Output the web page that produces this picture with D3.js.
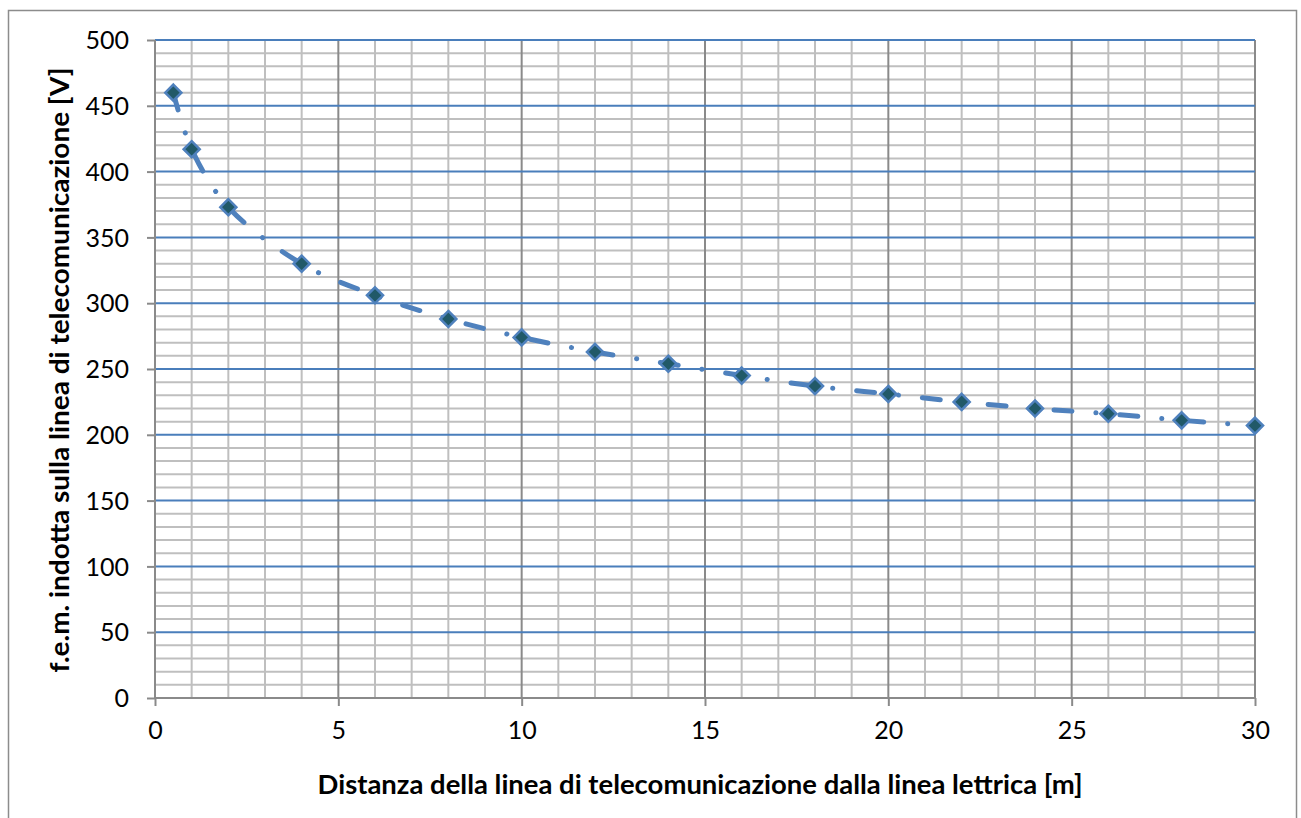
<!DOCTYPE html>
<html>
<head>
<meta charset="utf-8">
<script src="https://cdn.jsdelivr.net/npm/d3@7"></script>
<style>
  html, body { margin: 0; padding: 0; background: #fff; }
  svg { display: block; }
</style>
</head>
<body>
<svg id="chart" width="1301" height="818"></svg>
<script>
// ---- data ----
const distances = [0.5, 1, 2, 4, 6, 8, 10, 12, 14, 16, 18, 20, 22, 24, 26, 28, 30];
const femValues = [460, 417, 373, 330, 306, 288, 274, 263, 254, 245, 237, 231, 225, 220, 216, 211, 207];
const xTicks = [0, 5, 10, 15, 20, 25, 30];
const yTicks = [0, 50, 100, 150, 200, 250, 300, 350, 400, 450, 500];
const xTitle = "Distanza della linea di telecomunicazione dalla linea lettrica [m]";
const yTitle = "f.e.m. indotta sulla linea di telecomunicazione [V]";

(function () {
// ---- layout ----
const svg = d3.select("#chart");
const pL = 155, pR = 1255, pT = 40, pB = 698;
const x = d3.scaleLinear().domain([0, 30]).range([pL, pR]);
const y = d3.scaleLinear().domain([0, 500]).range([pB, pT]);

const FONT = "Lato, 'Open Sans', 'DejaVu Sans', sans-serif";

// outer border (bottom edge lies outside the picture)
svg.append("rect")
  .attr("x", 8.5).attr("y", 10.5)
  .attr("width", 1288).attr("height", 830)
  .attr("fill", "#fff").attr("stroke", "#8c8c8c").attr("stroke-width", 1.5);

const g = svg.append("g");

// minor gridlines
const minorX = d3.range(1, 31).filter(v => v % 5 !== 0);
const minorY = d3.range(10, 501, 10).filter(v => v % 50 !== 0);
g.selectAll("line.mx").data(minorX).join("line")
  .attr("x1", d => x(d)).attr("x2", d => x(d))
  .attr("y1", pT).attr("y2", pB)
  .attr("stroke", "#bfbfbf").attr("stroke-width", 2);
g.selectAll("line.my").data(minorY).join("line")
  .attr("x1", pL).attr("x2", pR)
  .attr("y1", d => y(d)).attr("y2", d => y(d))
  .attr("stroke", "#bfbfbf").attr("stroke-width", 2);

// major vertical gridlines (every 5)
g.selectAll("line.Mx").data(xTicks.filter(v => v > 0)).join("line")
  .attr("x1", d => x(d)).attr("x2", d => x(d))
  .attr("y1", pT).attr("y2", pB)
  .attr("stroke", "#8a8a8a").attr("stroke-width", 2);

// major horizontal gridlines (blue)
g.selectAll("line.My").data(yTicks.filter(v => v > 0)).join("line")
  .attr("x1", pL).attr("x2", pR)
  .attr("y1", d => y(d)).attr("y2", d => y(d))
  .attr("stroke", "#4a7ebb").attr("stroke-width", 2);

// axes via d3
const yAxis = d3.axisLeft(y).tickValues(yTicks).tickSize(8).tickPadding(18);
const xAxis = d3.axisBottom(x).tickValues(xTicks).tickSize(8).tickPadding(14);

const ya = svg.append("g").attr("transform", `translate(${pL},0)`).call(yAxis);
const xa = svg.append("g").attr("transform", `translate(0,${pB})`).call(xAxis);

[ya, xa].forEach(a => {
  a.select(".domain").attr("stroke", "#8a8a8a").attr("stroke-width", 2);
  a.selectAll(".tick line").attr("stroke", "#8a8a8a").attr("stroke-width", 2);
  a.selectAll(".tick text")
    .attr("font-family", FONT).attr("font-size", 25).attr("fill", "#000");
});
ya.selectAll(".tick text").attr("dy", "0.35em");
xa.selectAll(".tick text").attr("dy", "0.76em");
ya.select(".domain").attr("d", `M0,${pT}V${pB}`);
xa.select(".domain").attr("d", `M${pL},0H${pR}`);

// series line (smoothed, long-dash-dot)
const line = d3.line()
  .x(d => x(d[0])).y(d => y(d[1]))
  .curve(d3.curveCatmullRom.alpha(0.5));
const pts = distances.map((d, i) => [d, femValues[i]]);
svg.append("path")
  .datum(pts)
  .attr("d", line)
  .attr("fill", "none")
  .attr("stroke", "#4f81bd")
  .attr("stroke-width", 5)
  .attr("stroke-linecap", "round")
  .attr("stroke-dasharray", "18 24 0.1 24");

// markers (diamonds)
const diamond = d3.symbol().type(d3.symbolDiamond2).size(165);
svg.selectAll("path.mk").data(pts).join("path")
  .attr("transform", d => `translate(${x(d[0])},${y(d[1])})`)
  .attr("d", diamond)
  .attr("fill", "#215968")
  .attr("stroke", "#4f81bd")
  .attr("stroke-width", 2.5);

// axis titles
svg.append("text")
  .attr("x", 700).attr("y", 794)
  .attr("text-anchor", "middle")
  .attr("font-family", FONT).attr("font-weight", "bold").attr("font-size", 27)
  .attr("textLength", 765).attr("lengthAdjust", "spacingAndGlyphs")
  .text(xTitle);

svg.append("text")
  .attr("transform", "translate(69,370) rotate(-90)")
  .attr("text-anchor", "middle")
  .attr("font-family", FONT).attr("font-weight", "bold").attr("font-size", 27)
  .attr("textLength", 605).attr("lengthAdjust", "spacingAndGlyphs")
  .text(yTitle);
})();
</script>
</body>
</html>
